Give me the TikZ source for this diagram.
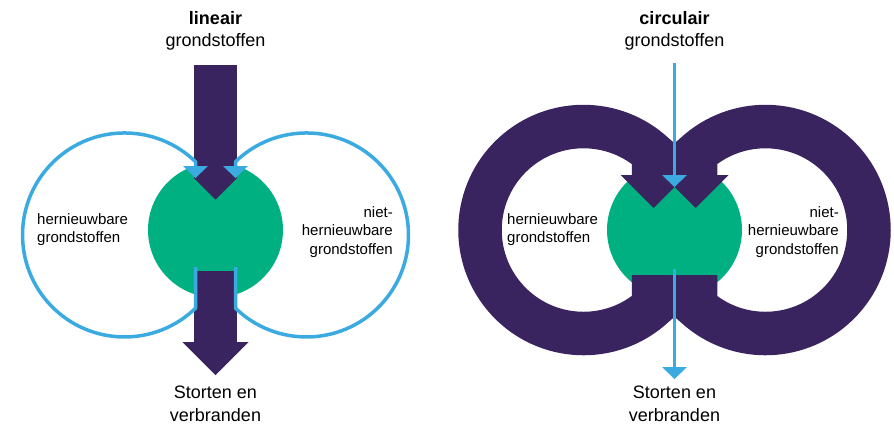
\documentclass[tikz,border=0pt]{standalone}
\usepackage{fontspec}
\setmainfont{Liberation Sans}
\usetikzlibrary{arrows.meta,calc}
\definecolor{paars}{HTML}{392460}
\definecolor{groen}{HTML}{00B080}
\definecolor{blauw}{HTML}{3AAAE1}
\tikzset{
	kop/.style={anchor=north, inner sep=0pt, align=center, font=\fontsize{18}{22.4}\selectfont},
	zij/.style={inner sep=0pt, font=\fontsize{15}{18.5}\selectfont},
	kern/.style={fill=groen},
	stroom/.style={draw=paars, line width=43.5pt},
	breed/.style={-{Triangle[width=66pt,length=33pt,line width=0pt]}},
	smal/.style={-{Triangle[width=43.5pt,length=21.75pt,line width=0pt]}},
	lus/.style={draw=blauw, line width=3.5pt, line join=round, -{Triangle[width=25pt,length=12pt,line width=0pt]}}
}

\begin{document}
\begin{tikzpicture}[x=1pt, y=-1pt]
	\useasboundingbox (0,0) rectangle (894,424);

	\node[kop] (lin-kop) at (215.5,10.9) {\textbf{lineair}\\grondstoffen};
	\fill[kern] (215.5,230) circle[radius=67.5];
	\coordinate (lin-in) at (215.5,65);
	\coordinate (lin-kern) at (215.5,199.5);
	\coordinate (lin-af) at (215.5,271);
	\coordinate (lin-uit) at (215.5,375);
	\coordinate (lin-l-af) at (195.5,267);
	\coordinate (lin-l-in) at (195.5,178);
	\coordinate (lin-r-af) at (235.5,267);
	\coordinate (lin-r-in) at (235.5,178);
	\draw[stroom, smal] (lin-in) -- (lin-kern);
	\draw[stroom, breed] (lin-af) -- (lin-uit);
	\draw[lus] (lin-l-af) -- ++(0,41.2) arc[start angle=45.9, end angle=314.1, radius=102] -- (lin-l-in);
	\draw[lus] (lin-r-af) -- ++(0,41.2) arc[start angle=134.1, end angle=-134.1, radius=102] -- (lin-r-in);
	\node[zij, anchor=north west, align=left] (lin-hern) at (37,213) {hernieuwbare\\grondstoffen};
	\node[zij, anchor=north east, align=right] (lin-niet) at (393,206.3) {niet-\\hernieuwbare\\grondstoffen};
	\node[kop] (lin-eind) at (215.5,385.9) {Storten en\\verbranden};

	\node[kop] (circ-kop) at (674.5,10.9) {\textbf{circulair}\\grondstoffen};
	\fill[kern] (674.5,230) circle[radius=67.5];
	\coordinate (circ-l-af) at (653.5,275);
	\coordinate (circ-l-in) at (653.5,208);
	\coordinate (circ-r-af) at (695.5,275);
	\coordinate (circ-r-in) at (695.5,208);
	\coordinate (circ-in) at (674.5,63);
	\coordinate (circ-kern) at (674.5,187);
	\coordinate (circ-af) at (674.5,269);
	\coordinate (circ-uit) at (674.5,379);
	\draw[stroom, breed] (circ-l-af) -- ++(0,31.25) arc[start angle=47.44, end angle=312.56, radius=103.5] -- (circ-l-in);
	\draw[stroom, breed] (circ-r-af) -- ++(0,31.25) arc[start angle=132.56, end angle=-132.56, radius=103.5] -- (circ-r-in);
	\draw[lus] (circ-in) -- (circ-kern);
	\draw[lus] (circ-af) -- (circ-uit);
	\node[zij, anchor=north west, align=left] (circ-hern) at (507,213) {hernieuwbare\\grondstoffen};
	\node[zij, anchor=north east, align=right] (circ-niet) at (839,206.3) {niet-\\hernieuwbare\\grondstoffen};
	\node[kop] (circ-eind) at (674.5,385.9) {Storten en\\verbranden};
\end{tikzpicture}
\end{document}
